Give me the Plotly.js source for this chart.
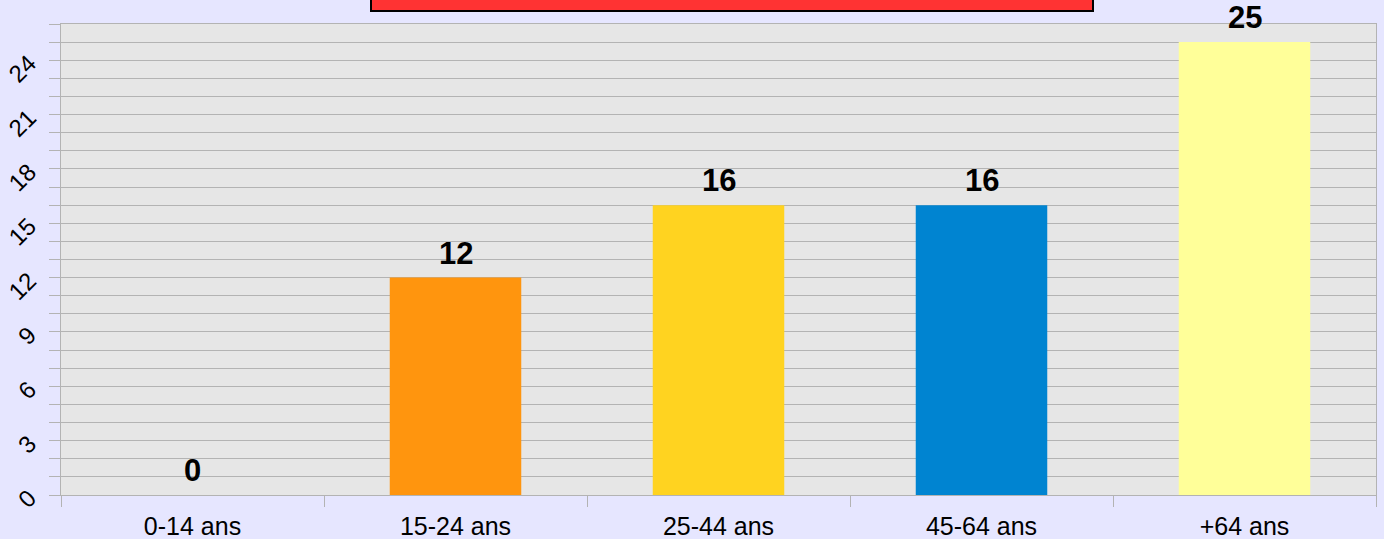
<!DOCTYPE html>
<html>
<head>
<meta charset="utf-8">
<script src="https://cdn.plot.ly/plotly-3.0.1.min.js"></script>
<style>html,body{margin:0;padding:0;background:#e6e6ff;}#chart{width:1384px;height:539px;}</style>
</head>
<body>
<div id="chart"></div>
<script>
const categories = ["0-14 ans", "15-24 ans", "25-44 ans", "45-64 ans", "+64 ans"];
const values = [0, 12, 16, 16, 25];
const barColors = ["#ff950e", "#ff950e", "#ffd320", "#0084d1", "#ffff99"];
const chartTitle = "Répartition par tranche d'âge";

const trace = {
  type: "bar",
  x: categories,
  y: values,
  width: 0.5,
  marker: {color: barColors, line: {width: 0}},
  hoverinfo: "x+y"
};

const annotations = categories.map((c, i) => ({
  x: c, y: values[i], xref: "x", yref: "y",
  text: String(values[i]),
  showarrow: false, yanchor: "bottom", yshift: 5,
  font: {family: "Liberation Sans, Arial, sans-serif", size: 31, color: "#000000", weight: "bold"}
}));
annotations.push({
  xref: "paper", yref: "paper", x: (732 - 61) / 1315, y: (495 - 1) / 471,
  xanchor: "center", yanchor: "bottom", showarrow: false,
  text: chartTitle,
  font: {family: "Liberation Sans, Arial, sans-serif", size: 30, color: "#ffffff", weight: "bold"}
});

const layout = {
  width: 1384, height: 539,
  margin: {l: 61, r: 8, t: 24, b: 44, pad: 0},
  paper_bgcolor: "#e6e6ff",
  plot_bgcolor: "#e6e6e6",
  showlegend: false,
  bargap: 0.5,
  font: {family: "Liberation Sans, Arial, sans-serif", color: "#000000"},
  xaxis: {
    type: "category",
    tickson: "boundaries",
    ticks: "outside", ticklen: 11, tickcolor: "#b3b3b3", tickwidth: 1,
    ticklabelstandoff: 9,
    showgrid: false,
    showline: true, linecolor: "#b3b3b3", linewidth: 1, mirror: true,
    tickfont: {size: 25, color: "#000000"},
    zeroline: false
  },
  yaxis: {
    range: [0, 26],
    dtick: 3, tick0: 0,
    tickangle: -45,
    ticks: "outside", ticklen: 11, tickcolor: "#b3b3b3", tickwidth: 1,
    ticklabelstandoff: 15,
    showgrid: true, gridcolor: "#b3b3b3", gridwidth: 1,
    minor: {dtick: 1, showgrid: true, gridcolor: "#b3b3b3", gridwidth: 1, ticks: "outside", ticklen: 11, tickcolor: "#b3b3b3"},
    showline: true, linecolor: "#b3b3b3", linewidth: 1, mirror: true,
    zeroline: false,
    tickfont: {size: 24, color: "#000000"}
  },
  shapes: [{
    type: "rect", xref: "paper", yref: "paper",
    x0: (371 - 61) / 1315, x1: (1093 - 61) / 1315,
    y0: (495 - 11) / 471, y1: (495 + 40) / 471,
    fillcolor: "#ff3333", line: {color: "#000000", width: 2}, layer: "above"
  }],
  annotations: annotations
};

Plotly.newPlot("chart", [trace], layout, {displayModeBar: false, staticPlot: true});
</script>
</body>
</html>
